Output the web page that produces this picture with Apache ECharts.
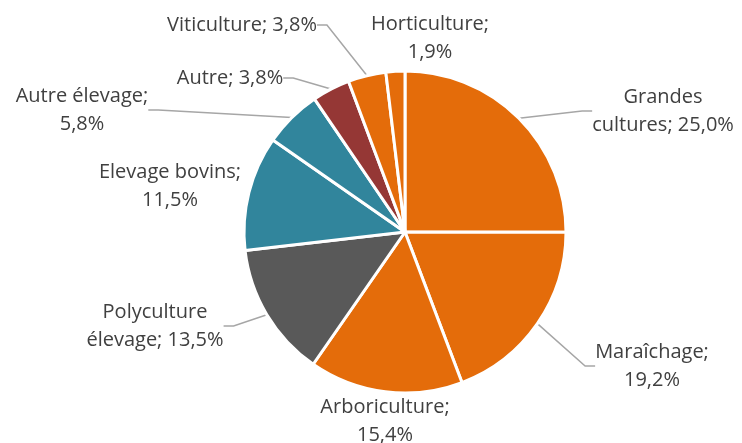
<!DOCTYPE html>
<html>
<head>
<meta charset="utf-8">
<script src="https://cdn.jsdelivr.net/npm/echarts@6/dist/echarts.min.js"></script>
<style>html,body{margin:0;padding:0;background:#fff}#c{width:742px;height:443px}</style>
</head>
<body>
<div id="c"></div>
<script>
const categories = ['Grandes cultures', 'Maraîchage', 'Arboriculture', 'Polyculture élevage', 'Elevage bovins', 'Autre élevage', 'Autre', 'Viticulture', 'Horticulture'];
const values = [25.0, 19.2, 15.4, 13.5, 11.5, 5.8, 3.8, 3.8, 1.9];
const labelTexts = ['Grandes\ncultures', 'Maraîchage;\n', 'Arboriculture;\n', 'Polyculture\nélevage', 'Elevage bovins;\n', 'Autre élevage;\n', 'Autre', 'Viticulture', 'Horticulture;\n'];
const colors = ['#E46C0A', '#E46C0A', '#E46C0A', '#595959', '#31859C', '#31859C', '#953735', '#E46C0A', '#E46C0A'];
const showLine = [true, true, false, true, false, true, true, true, false];
const labelPos = [[663, 111], [652, 366], [385, 421], [155, 326], [170, 186], [82, 110], [230, 78], [242, 25], [430, 38]];

function fmt(v) { return v.toFixed(1).replace('.', ',') + '%'; }

const data = categories.map((c, i) => ({
  name: c,
  value: values[i],
  itemStyle: { color: colors[i] },
  label: {
    formatter: labelTexts[i].endsWith('\n') ? labelTexts[i] + fmt(values[i]) : labelTexts[i] + '; ' + fmt(values[i])
  },
  labelLine: { show: showLine[i] }
}));

const chart = echarts.init(document.getElementById('c'), null, { renderer: 'canvas' });
chart.setOption({
  animation: false,
  series: [{
    type: 'pie',
    center: [405, 232],
    radius: [0, 161],
    startAngle: 90,
    clockwise: true,
    data: data,
    itemStyle: { borderColor: '#fff', borderWidth: 3 },
    label: {
      show: true,
      color: '#404040',
      fontFamily: 'Open Sans',
      fontSize: 20,
      lineHeight: 28,
      align: 'center'
    },
    labelLine: {
      show: true,
      length: 15,
      length2: 10,
      lineStyle: { color: '#A6A6A6', width: 1.5 }
    },
    labelLayout: function (p) {
      const pos = labelPos[p.dataIndex];
      return { x: pos[0], y: pos[1], align: 'center', verticalAlign: 'middle' };
    },
    emphasis: { disabled: true }
  }]
});
</script>
</body>
</html>
